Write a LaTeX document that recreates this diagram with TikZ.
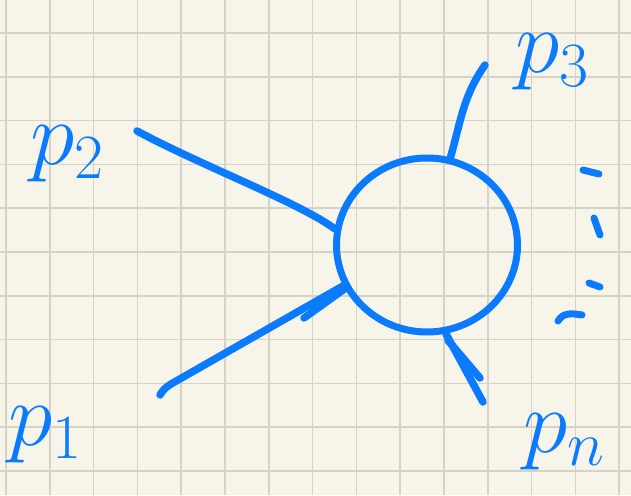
\RequirePackage{fix-cm}
\documentclass[tikz,border=0pt]{standalone}
\usepackage{tikz}
\usetikzlibrary{shapes.geometric}
\definecolor{ink}{RGB}{10,122,255}
\definecolor{paper}{RGB}{247,245,233}
\definecolor{gridln}{RGB}{214,211,198}

\begin{document}
\begin{tikzpicture}[
  x=1pt, y=1pt,
  leg/.style={draw=ink, line width=7.5pt, line cap=round},
  blob/.style={ellipse, draw=ink, line width=7pt, minimum width=181pt, minimum height=174pt, inner sep=0pt},
  lab/.style={text=ink, inner sep=0pt, anchor=base west, font=\fontsize{90}{90}\selectfont},
  dotmark/.style={leg, line width=7pt}
]
\useasboundingbox (0,0) rectangle (631,495);
% ----- paper -----
\fill[paper] (0,0) rectangle (631,495);
\foreach \i in {0,...,14}
  \draw[gridln, line width=1.5pt] ({6+43.8*\i},0) -- ({6+43.8*\i},495);
\foreach \i in {0,...,10}
  \draw[gridln, line width=1.5pt] (0,{462-43.8*\i}) -- (631,{462-43.8*\i});
% ----- vertex -----
\node[blob] (v) at (427,250) {};
% ----- legs -----
\coordinate (e1) at (160,100);
\coordinate (e2) at (137,364);
\coordinate (e3) at (485,430);
\coordinate (en) at (483,93);
\coordinate (t1) at (304,177);
\coordinate (tn) at (480,117);
\draw[leg] (e2) .. controls (200,330) and (300,292) .. (v.170);
\draw[leg] (e1) to[out=60,in=212] (171,111) -- (v.206);
\draw[leg] (t1) -- (v.208);
\draw[leg] (v.75) to[out=74,in=-125] (e3);
\draw[leg] (v.282) -- (en);
\draw[leg, shorten <=8pt] (v.280) -- (tn);
% ----- momenta -----
\node[lab] (p2) at (30,330) {$p_2$};
\node[lab] (p1) at (8,50) {$p_1$};
\node[lab] (p3) at (515,422) {$p_3$};
\node[lab] (pn) at (523,43) {$p_n$};
% ----- dots -----
\draw[dotmark] (583,325) -- (599,321);
\draw[dotmark] (594,277) -- (600,260);
\draw[dotmark] (589,212) -- (600,208);
\draw[dotmark] (558,174) .. controls (563,182) and (570,182) .. (582,180);
\end{tikzpicture}
\end{document}
